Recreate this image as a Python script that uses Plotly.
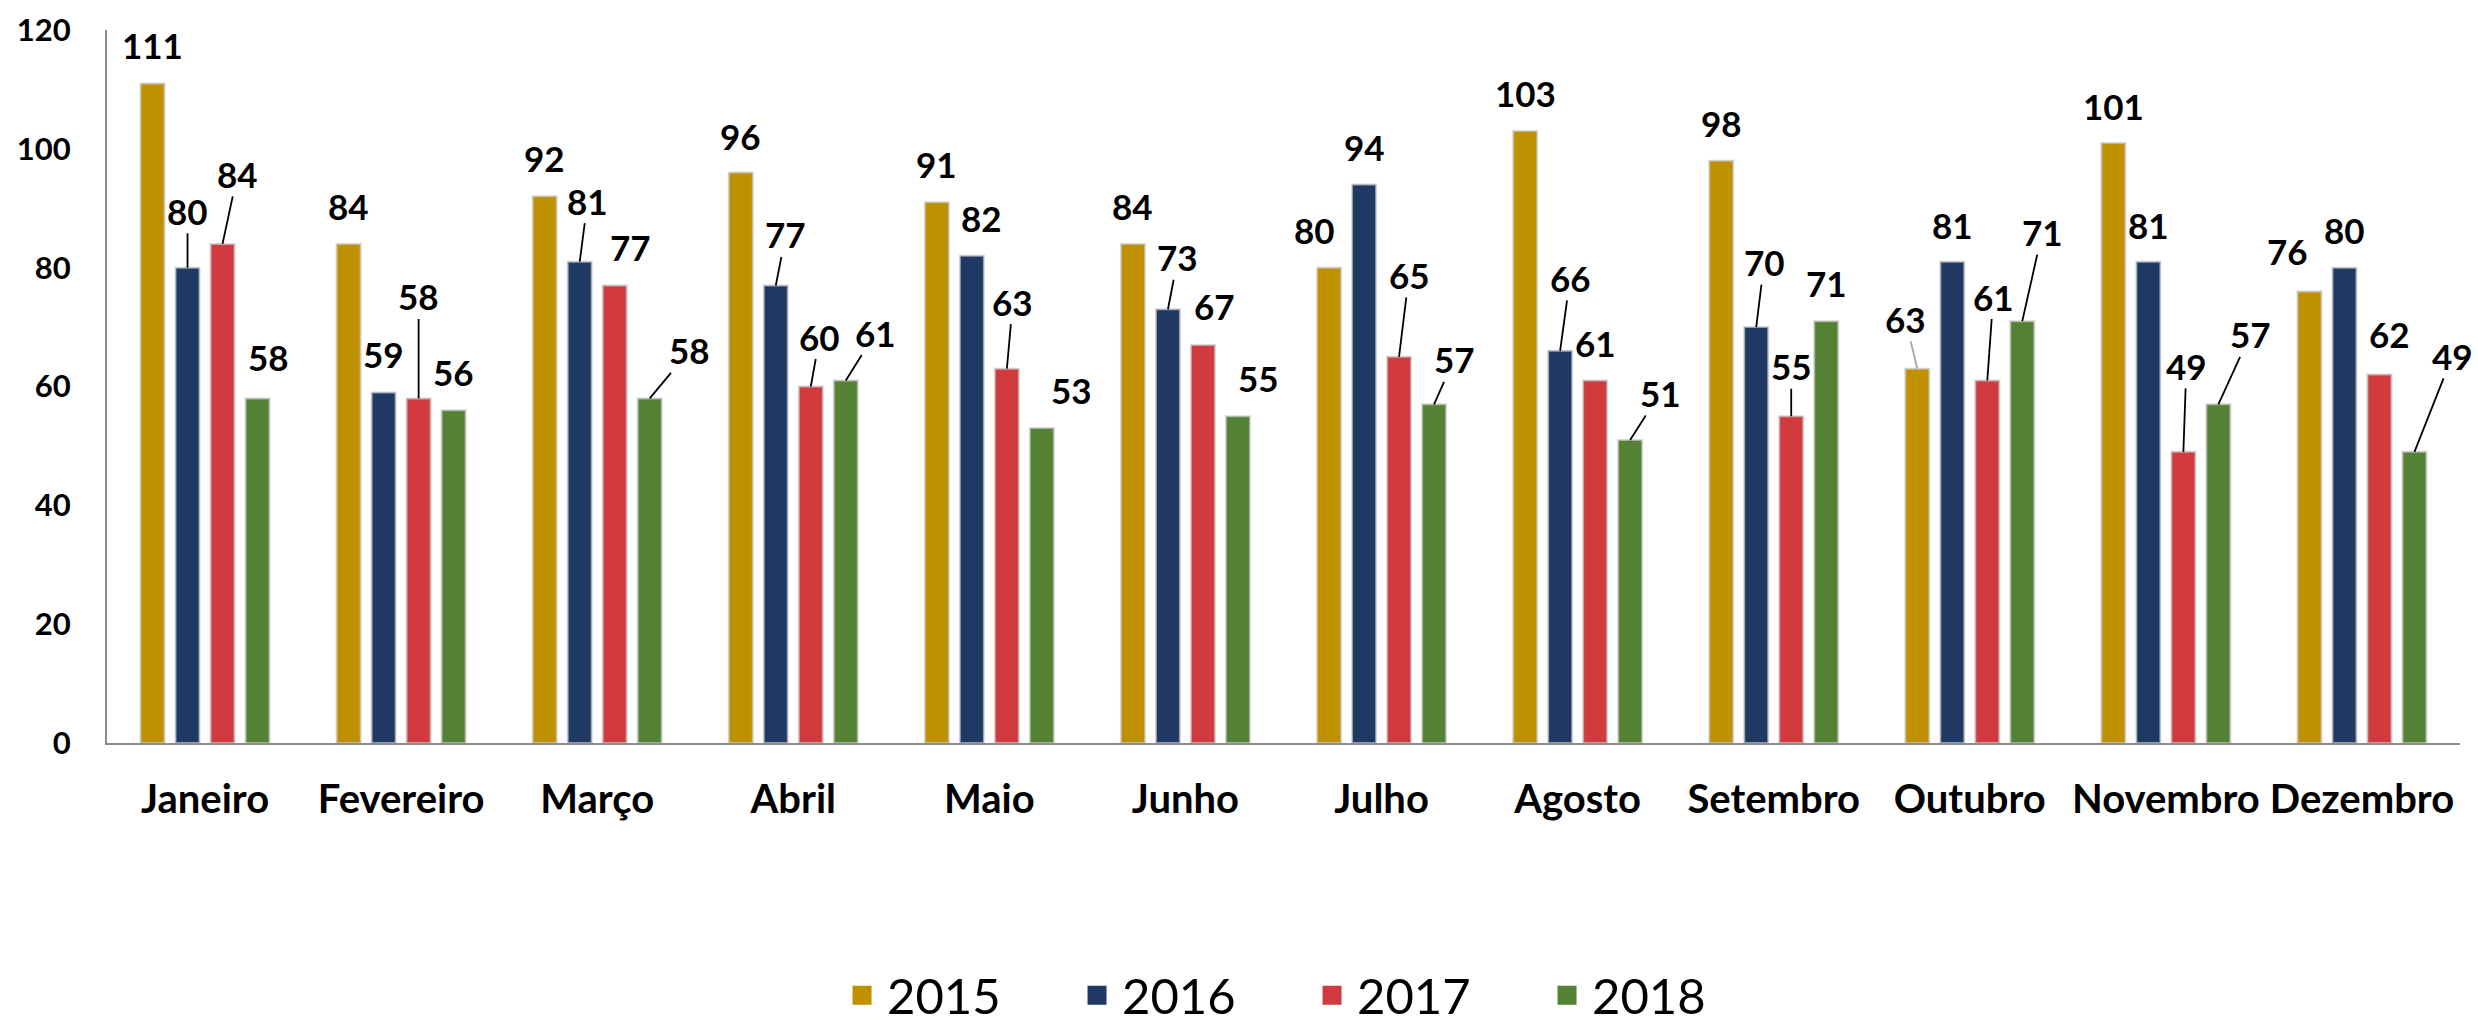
import plotly.graph_objects as go

months = ["Janeiro", "Fevereiro", "Março", "Abril", "Maio", "Junho",
          "Julho", "Agosto", "Setembro", "Outubro", "Novembro", "Dezembro"]
years = ["2015", "2016", "2017", "2018"]

v2015 = [111, 84, 92, 96, 91, 84, 80, 103, 98, 63, 101, 76]
v2016 = [80, 59, 81, 77, 82, 73, 94, 66, 70, 81, 81, 80]
v2017 = [84, 58, 77, 60, 63, 67, 65, 61, 55, 61, 49, 62]
v2018 = [58, 56, 58, 61, 53, 55, 57, 51, 71, 71, 57, 49]

colors = ["#BF9000", "#203864", "#D13A3F", "#548235"]

# label placement (pixel offsets from bar top, leader flag: 0 none, 1 black, 2 gray)
dx2015 = [0, 0, 0, 0, 0, 0, -15, 0, 0, -12, 0, -22]
dy2015 = [-38, -38, -38, -37, -38, -38, -38, -38, -38, -50, -37, -40]
ld2015 = [0, 0, 0, 0, 0, 0, 0, 0, 0, 2, 0, 0]
dx2016 = [0, 0, 8, 10, 10, 10, 0, 10, 8, 0, 0, 0]
dy2016 = [-57, -38, -61, -51, -38, -52, -37, -73, -65, -37, -37, -38]
ld2016 = [1, 0, 1, 1, 0, 1, 0, 1, 1, 0, 0, 0]
dx2017 = [15, 0, 16, 9, 6, 12, 10, 0, 0, 6, 3, 10]
dy2017 = [-70, -102, -38, -50, -67, -39, -82, -38, -50, -84, -86, -41]
ld2017 = [1, 1, 0, 1, 1, 0, 1, 0, 1, 1, 1, 0]
dx2018 = [11, 0, 40, 30, 30, 21, 20, 30, 0, 20, 32, 38]
dy2018 = [-41, -38, -48, -48, -38, -38, -45, -47, -38, -89, -70, -96]
ld2018 = [0, 0, 1, 1, 0, 0, 1, 1, 0, 1, 1, 1]

series = [v2015, v2016, v2017, v2018]
dxs = [dx2015, dx2016, dx2017, dx2018]
dys = [dy2015, dy2016, dy2017, dy2018]
lds = [ld2015, ld2016, ld2017, ld2018]

FONT = "Lato"
bargap = 0.286
bargroupgap = 0.314

fig = go.Figure()
for name, vals, col in zip(years, series, colors):
    fig.add_trace(go.Bar(
        name=name, x=months, y=vals, showlegend=False,
        marker=dict(color=col, line=dict(color="rgba(200,200,200,0.7)", width=2)),
    ))
# legend entries with larger square swatches
for name, col in zip(years, colors):
    fig.add_trace(go.Scatter(
        name=name, x=[months[0]], y=[None], mode="markers",
        marker=dict(symbol="square", size=16, color=col,
                    line=dict(color=col, width=3)),
        hoverinfo="skip",
    ))

slot = (1 - bargap) / len(series)
annotations = []
for s, vals in enumerate(series):
    off = -(1 - bargap) / 2 + slot * (s + 0.5)
    for i, v in enumerate(vals):
        lead = lds[s][i]
        acol = "rgba(0,0,0,0)" if lead == 0 else ("#A6A6A6" if lead == 2 else "#000000")
        annotations.append(dict(
            x=i + off, y=v, xref="x", yref="y",
            text=str(v), showarrow=True, arrowhead=0, arrowwidth=1.8,
            arrowcolor=acol, standoff=0,
            ax=dxs[s][i], ay=dys[s][i],
            font=dict(family=FONT, size=35, color="#000000", weight="bold"),
        ))

fig.update_layout(
    width=2478, height=1030,
    margin=dict(l=107, r=18, t=30, b=287, autoexpand=False),
    paper_bgcolor="white", plot_bgcolor="white",
    barmode="group", bargap=bargap, bargroupgap=bargroupgap,
    annotations=annotations,
    showlegend=True,
    legend=dict(orientation="h", x=0.510, xanchor="center", y=-0.354, yanchor="middle",
                font=dict(family=FONT, size=49, color="#000000"),
                entrywidth=180, entrywidthmode="pixels", itemwidth=40,
                itemsizing="trace", traceorder="normal"),
    font=dict(family=FONT),
)
fig.update_xaxes(
    type="category", range=[-0.5, len(months) - 0.5],
    showgrid=False, zeroline=False,
    showline=True, linecolor="#8C8C8C", linewidth=2,
    ticks="", ticklabelstandoff=20, tickangle=0,
    tickfont=dict(family=FONT, size=40, color="#000000", weight="bold"),
)
fig.update_yaxes(
    range=[0, 120], dtick=20, showgrid=False, zeroline=False,
    showline=True, linecolor="#8C8C8C", linewidth=2,
    ticks="", ticklabelstandoff=28,
    tickfont=dict(family=FONT, size=31, color="#000000", weight="bold"),
)

fig.write_html("out.html", config={"displayModeBar": False},
               post_script="document.body.style.margin='0px';document.body.style.overflow='hidden';")
